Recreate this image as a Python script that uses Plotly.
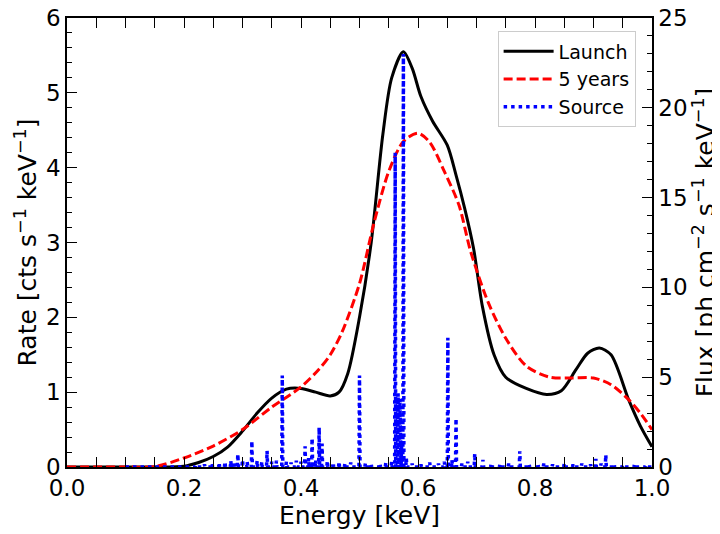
import plotly.graph_objects as go

# Launch response (rate, left axis)
launch_energy = [0.0, 0.1, 0.15, 0.2, 0.225, 0.25, 0.275, 0.3, 0.325, 0.35, 0.375, 0.4, 0.425,
                 0.45, 0.465, 0.48, 0.5, 0.52, 0.54, 0.555, 0.575, 0.59, 0.605, 0.625, 0.65,
                 0.665, 0.68, 0.695, 0.71, 0.73, 0.75, 0.785, 0.82, 0.845, 0.87, 0.89, 0.91,
                 0.93, 0.96, 0.98, 1.0]
launch_rate = [0.0, 0.0, 0.0, 0.01, 0.06, 0.14, 0.27, 0.48, 0.72, 0.92, 1.04, 1.05, 1.0,
               0.95, 1.0, 1.25, 2.0, 3.0, 4.45, 5.2, 5.55, 5.33, 4.95, 4.62, 4.3,
               3.9, 3.45, 2.92, 2.15, 1.5, 1.2, 1.05, 0.97, 1.02, 1.3, 1.52, 1.59,
               1.5, 0.9, 0.55, 0.27]

# 5 years response (rate, left axis)
years5_energy = [0.0, 0.1, 0.15, 0.2, 0.25, 0.3, 0.35, 0.4, 0.43, 0.45, 0.47, 0.5, 0.525,
                 0.55, 0.575, 0.6, 0.62, 0.645, 0.67, 0.69, 0.72, 0.75, 0.785, 0.825,
                 0.865, 0.9, 0.93, 0.96, 0.98, 1.0]
years5_rate = [0.0, 0.0, 0.005, 0.12, 0.28, 0.5, 0.8, 1.07, 1.3, 1.5, 1.8, 2.45, 3.27,
               3.95, 4.35, 4.46, 4.34, 3.95, 3.5, 2.88, 2.2, 1.72, 1.35, 1.2,
               1.19, 1.19, 1.1, 0.9, 0.72, 0.5]

# Source line spectrum (flux, right axis)
line_energy = [0.22, 0.235, 0.248, 0.26, 0.27, 0.28, 0.285, 0.292, 0.3, 0.308, 0.316, 0.325,
               0.333, 0.342, 0.35, 0.358, 0.368, 0.375, 0.383, 0.392, 0.4, 0.407, 0.413,
               0.419, 0.425, 0.431, 0.436, 0.445, 0.455, 0.465, 0.475, 0.485, 0.5, 0.51,
               0.52, 0.535, 0.545, 0.555, 0.561, 0.566, 0.569, 0.572, 0.575, 0.58, 0.59,
               0.605, 0.62, 0.635, 0.645, 0.651, 0.658, 0.665, 0.675, 0.685, 0.697, 0.711,
               0.725, 0.74, 0.755, 0.774, 0.79, 0.805, 0.815, 0.83, 0.85, 0.865, 0.88,
               0.895, 0.904, 0.913, 0.921, 0.935, 0.95, 0.97, 0.99]
line_flux = [0.1, 0.15, 0.2, 0.25, 0.3, 0.35, 0.3, 0.72, 0.4, 0.3, 1.45, 0.35,
             0.3, 0.9, 0.3, 0.35, 5.1, 0.3, 0.25, 0.35, 0.3, 1.15, 0.5,
             1.6, 0.4, 2.2, 1.3, 0.35, 0.25, 0.3, 0.2, 0.25, 5.1, 0.2,
             0.15, 0.2, 0.25, 0.3, 17.5, 4.1, 3.8, 1.2, 23.0, 0.5, 0.2,
             0.15, 0.25, 0.2, 0.3, 7.2, 0.4, 2.7, 0.2, 0.3, 0.75, 0.4,
             0.2, 0.15, 0.2, 0.88, 0.15, 0.2, 0.2, 0.15, 0.2, 0.15, 0.2,
             0.15, 0.45, 0.2, 0.68, 0.15, 0.1, 0.15, 0.1]

src_x = [0.1]
src_y = [0.0]
for e, f in zip(line_energy, line_flux):
    src_x += [e - 0.0009, e, e + 0.0009]
    src_y += [0.0, f, 0.0]
src_x.append(1.0)
src_y.append(0.0)

fig = go.Figure()

fig.add_trace(go.Scatter(x=launch_energy, y=launch_rate, mode='lines', name='Launch',
                         line=dict(color='black', width=3, shape='spline', smoothing=0.8)))
fig.add_trace(go.Scatter(x=years5_energy, y=years5_rate, mode='lines', name='5 years',
                         line=dict(color='#ff0000', width=3, dash='9px,4px', shape='spline',
                                   smoothing=0.8)))
fig.add_trace(go.Scatter(x=src_x, y=src_y, mode='lines', name='Source', yaxis='y2',
                         line=dict(color='#0000ff', width=3.5, dash='3.5px,4px')))

tickfont = dict(family='DejaVu Sans', size=23, color='black')
titlefont = dict(family='DejaVu Sans', size=25, color='black')

# the page body adds an 8px margin, so the figure is shrunk by that much
fig.update_layout(
    width=712, height=526,
    margin=dict(l=59, r=68, t=10, b=67),
    plot_bgcolor='white', paper_bgcolor='white',
    font=dict(family='DejaVu Sans', color='black'),
    showlegend=True,
    legend=dict(x=0.972, y=0.97, xanchor='right', yanchor='top',
                bgcolor='white', bordercolor='#cccccc', borderwidth=1,
                tracegroupgap=2, itemwidth=50,
                font=dict(family='DejaVu Sans', size=19, color='black')),
    xaxis=dict(range=[0, 1], dtick=0.2, tickformat='.1f', showgrid=False, zeroline=False,
               showline=True, linecolor='black', linewidth=1.5, mirror='allticks',
               ticks='inside', ticklen=10, tickcolor='black', automargin=False,
               minor=dict(dtick=0.05, ticks='inside', ticklen=5, tickcolor='black'),
               tickfont=tickfont, title=dict(text='Energy [keV]', font=titlefont, standoff=2)),
    yaxis=dict(range=[0, 6], dtick=1, showgrid=False, zeroline=False,
               showline=True, linecolor='black', linewidth=1.5, automargin=False,
               ticks='inside', ticklen=10, tickcolor='black', ticklabeloverflow='allow',
               minor=dict(dtick=0.2, ticks='inside', ticklen=5, tickcolor='black'),
               tickfont=tickfont,
               title=dict(text='Rate [cts s<sup>−1</sup> keV<sup>−1</sup>]', font=titlefont,
                          standoff=2)),
    yaxis2=dict(range=[0, 25], dtick=5, overlaying='y', side='right', showgrid=False,
                zeroline=False, showline=True, linecolor='black', linewidth=1.5,
                automargin=False, ticklabeloverflow='allow',
                ticks='inside', ticklen=10, tickcolor='black',
                minor=dict(dtick=1, ticks='inside', ticklen=5, tickcolor='black'),
                tickfont=tickfont,
                title=dict(text='Flux [ph cm<sup>−2</sup> s<sup>−1</sup> keV<sup>−1</sup>]',
                           font=titlefont, standoff=2)),
)

fig.write_html("out.html")
